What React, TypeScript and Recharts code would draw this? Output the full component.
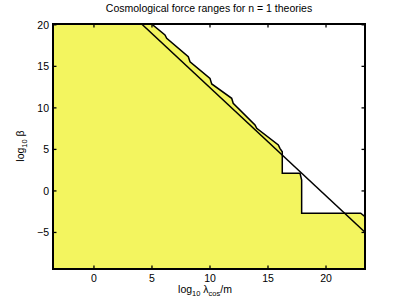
import React from 'react';
import { ComposedChart, Area, Line, XAxis, YAxis, ReferenceLine } from 'recharts';

// axis ranges and ticks
const xMin = -3.53;
const xMax = 23.36;
const yMin = -9.4;
const yMax = 20.1;
const xTicks = [0, 5, 10, 15, 20];
const yTicks = [-5, 0, 5, 10, 15, 20];

// allowed region boundary (staircase)
const boundaryLambda = [-3.53, 4.97, 6.12, 6.27, 8.13, 8.28, 10.0, 10.15, 11.87, 12.0, 13.88, 14.03, 15.89, 16.03, 16.23, 16.23, 17.76, 17.9, 17.9, 22.99, 23.36];
const boundaryBeta = [20.1, 20.1, 18.78, 18.38, 16.16, 15.56, 13.56, 12.88, 11.15, 10.55, 7.94, 7.54, 5.53, 5.13, 4.72, 2.12, 2.12, 1.31, -2.69, -2.69, -3.1];

// straight limit line
const limitLambda = [4.11, 23.36];
const limitBeta = [20.1, -4.98];

const boundary = boundaryLambda.map((x, i) => ({ x, beta: boundaryBeta[i] }));
const limit = limitLambda.map((x, i) => ({ x, beta: limitBeta[i] }));

const FONT = '"Liberation Sans", Arial, sans-serif';
// inward tick length in data units (~3.5px)
const xTickLen = 0.3;
const yTickLen = 0.42;

const fmt = (v: number) => (v < 0 ? '\u2212' + Math.abs(v) : String(v));

const XTick = ({ x, y, payload }: any) => (
    <text x={x} y={y + 13} textAnchor="middle" fontSize={10.5} fontFamily={FONT} fill="#000">
        {fmt(payload.value)}
    </text>
);

const YTick = ({ x, y, payload }: any) => (
    <text x={x - 4} y={y} dy="0.36em" textAnchor="end" fontSize={10.5} fontFamily={FONT} fill="#000">
        {fmt(payload.value)}
    </text>
);

const sub: React.CSSProperties = { fontSize: 7.5, position: 'relative', top: 3 };
const textBase: React.CSSProperties = {
    position: 'absolute',
    fontFamily: FONT,
    fontSize: 10.5,
    lineHeight: '14px',
    color: '#000',
    textAlign: 'center',
    whiteSpace: 'nowrap',
    pointerEvents: 'none',
};

export default function App() {
    return (
        <div style={{ position: 'absolute', left: 0, top: 0, width: 403, height: 304, background: '#fff' }}>
            <ComposedChart width={403} height={304} margin={{ top: 24, right: 38, bottom: 0, left: 0 }}>
                <XAxis
                    type="number"
                    dataKey="x"
                    domain={[xMin, xMax]}
                    ticks={xTicks}
                    allowDataOverflow
                    height={35}
                    axisLine={{ stroke: '#000', strokeWidth: 2 }}
                    tickLine={false}
                    tickSize={0}
                    tickMargin={0}
                    tick={<XTick />}
                />
                <YAxis
                    type="number"
                    domain={[yMin, yMax]}
                    ticks={yTicks}
                    allowDataOverflow
                    width={53}
                    axisLine={{ stroke: '#000', strokeWidth: 2 }}
                    tickLine={false}
                    tickSize={0}
                    tickMargin={0}
                    tick={<YTick />}
                />
                <Area
                    data={boundary}
                    dataKey="beta"
                    type="linear"
                    baseValue={yMin}
                    fill="#f3f55f"
                    fillOpacity={1}
                    stroke="#000"
                    strokeWidth={1.5}
                    isAnimationActive={false}
                />
                <Line
                    data={limit}
                    dataKey="beta"
                    type="linear"
                    stroke="#000"
                    strokeWidth={1.5}
                    dot={false}
                    isAnimationActive={false}
                />
                {/* inward tick marks on all four sides */}
                {xTicks.map((t) => (
                    <ReferenceLine key={'xb' + t} segment={[{ x: t, y: yMin }, { x: t, y: yMin + yTickLen }]} stroke="#000" strokeWidth={1.3} />
                ))}
                {xTicks.map((t) => (
                    <ReferenceLine key={'xt' + t} segment={[{ x: t, y: yMax }, { x: t, y: yMax - yTickLen }]} stroke="#000" strokeWidth={1.3} />
                ))}
                {yTicks.map((t) => (
                    <ReferenceLine key={'yl' + t} segment={[{ x: xMin, y: t }, { x: xMin + xTickLen, y: t }]} stroke="#000" strokeWidth={1.3} />
                ))}
                {yTicks.map((t) => (
                    <ReferenceLine key={'yr' + t} segment={[{ x: xMax, y: t }, { x: xMax - xTickLen, y: t }]} stroke="#000" strokeWidth={1.3} />
                ))}
            </ComposedChart>
            {/* axes box */}
            <div
                style={{
                    position: 'absolute',
                    left: 52,
                    top: 23,
                    width: 314,
                    height: 247,
                    boxSizing: 'border-box',
                    borderWidth: 2,
                    borderStyle: 'solid',
                    borderColor: '#000000',
                    pointerEvents: 'none',
                    zIndex: 10,
                }}
            />
            <div style={{ ...textBase, left: 53, top: 2, width: 312, lineHeight: '12px' }}>
                Cosmological force ranges for n = 1 theories
            </div>
            <div style={{ ...textBase, left: 105, top: 282, width: 200 }}>
                log<span style={sub}>10</span> λ<span style={sub}>cos</span>/m
            </div>
            <div
                style={{
                    ...textBase,
                    left: 20 - 40,
                    top: 146 - 7,
                    width: 80,
                    height: 14,
                    transform: 'rotate(-90deg)',
                }}
            >
                log<span style={sub}>10</span> β
            </div>
        </div>
    );
}
